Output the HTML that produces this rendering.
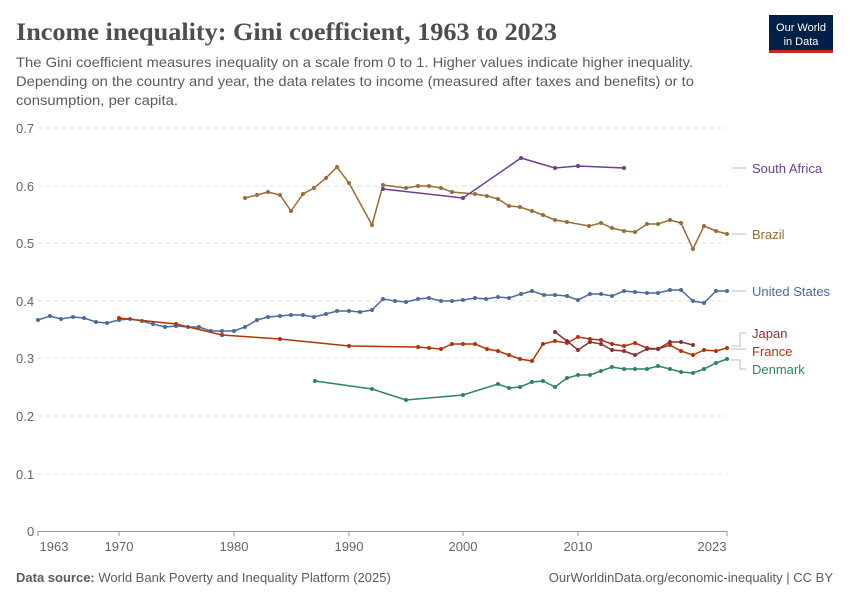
<!DOCTYPE html>
<html><head><meta charset="utf-8"><style>
body{margin:0;background:#fff;width:850px;height:600px;overflow:hidden;font-family:"Liberation Sans",sans-serif}
</style></head><body>
<svg width="850" height="600" xmlns="http://www.w3.org/2000/svg" font-family="Liberation Sans, sans-serif">
<defs>
<marker id="mb" markerWidth="6" markerHeight="6" refX="3" refY="3" markerUnits="userSpaceOnUse"><circle cx="3" cy="3" r="2" fill="#4c6a9c"/></marker>
<marker id="mr" markerWidth="6" markerHeight="6" refX="3" refY="3" markerUnits="userSpaceOnUse"><circle cx="3" cy="3" r="2" fill="#9a6c35"/></marker>
<marker id="ms" markerWidth="6" markerHeight="6" refX="3" refY="3" markerUnits="userSpaceOnUse"><circle cx="3" cy="3" r="2" fill="#6d3e91"/></marker>
<marker id="mf" markerWidth="6" markerHeight="6" refX="3" refY="3" markerUnits="userSpaceOnUse"><circle cx="3" cy="3" r="2" fill="#b13507"/></marker>
<marker id="mj" markerWidth="6" markerHeight="6" refX="3" refY="3" markerUnits="userSpaceOnUse"><circle cx="3" cy="3" r="2" fill="#883039"/></marker>
<marker id="md" markerWidth="6" markerHeight="6" refX="3" refY="3" markerUnits="userSpaceOnUse"><circle cx="3" cy="3" r="2" fill="#2c8465"/></marker>
</defs>
<text x="16" y="40" font-family="Liberation Serif, serif" font-size="25" font-weight="bold" fill="#4e4e4e" textLength="541" lengthAdjust="spacingAndGlyphs">Income inequality: Gini coefficient, 1963 to 2023</text>
<text font-size="14" fill="#5b5b5b"><tspan x="16" y="67" textLength="677" lengthAdjust="spacingAndGlyphs">The Gini coefficient measures inequality on a scale from 0 to 1. Higher values indicate higher inequality.</tspan></text>
<text font-size="14" fill="#5b5b5b"><tspan x="16" y="86" textLength="678" lengthAdjust="spacingAndGlyphs">Depending on the country and year, the data relates to income (measured after taxes and benefits) or to</tspan></text>
<text font-size="14" fill="#5b5b5b"><tspan x="16" y="105" textLength="162" lengthAdjust="spacingAndGlyphs">consumption, per capita.</tspan></text>
<rect x="769" y="15" width="64" height="37" fill="#002147"/><rect x="769" y="50" width="64" height="3" fill="#ce261e"/>
<text x="801" y="31" font-size="11" fill="#fff" text-anchor="middle">Our World</text><text x="801" y="45" font-size="11" fill="#fff" text-anchor="middle">in Data</text>
<g stroke="#ddd" stroke-dasharray="4,4" stroke-width="1">
<line x1="38" x2="727" y1="128" y2="128"/><line x1="38" x2="727" y1="186" y2="186"/><line x1="38" x2="727" y1="243" y2="243"/><line x1="38" x2="727" y1="301" y2="301"/><line x1="38" x2="727" y1="358" y2="358"/><line x1="38" x2="727" y1="416" y2="416"/><line x1="38" x2="727" y1="474" y2="474"/></g>
<line x1="38" x2="727" y1="531.5" y2="531.5" stroke="#999"/>
<g font-size="13" fill="#666"><text x="16" y="133">0.7</text><text x="16" y="191">0.6</text><text x="16" y="248">0.5</text><text x="16" y="306">0.4</text><text x="16" y="363">0.3</text><text x="16" y="421">0.2</text><text x="16" y="479">0.1</text><text x="27" y="536">0</text>
<g text-anchor="middle"><text x="54" y="551">1963</text><text x="119" y="551">1970</text><text x="234" y="551">1980</text><text x="349" y="551">1990</text><text x="463" y="551">2000</text><text x="578" y="551">2010</text><text x="712" y="551">2023</text></g></g>
<g stroke="#999"><line x1="38" x2="38" y1="531" y2="536"/><line x1="119" x2="119" y1="531" y2="536"/><line x1="234" x2="234" y1="531" y2="536"/><line x1="349" x2="349" y1="531" y2="536"/><line x1="463" x2="463" y1="531" y2="536"/><line x1="578" x2="578" y1="531" y2="536"/><line x1="727" x2="727" y1="531" y2="536"/></g>
<g fill="none" stroke-width="1.5">
<polyline stroke="#4c6a9c" marker-start="url(#mb)" marker-mid="url(#mb)" marker-end="url(#mb)" points="38,320 50,316 61,319 73,317 84,318 96,322 107,323 119,320 130,319 142,321 153,324 165,327 176,326 188,327 199,327 211,331 222,331 234,331 245,327 257,320 268,317 280,316 291,315 303,315 314,317 326,314 337,311 349,311 360,312 372,310 383,299 395,301 406,302 418,299 429,298 441,301 452,301 463,300 475,298 486,299 498,297 509,298 521,294 532,291 544,295 555,295 567,296 578,300 590,294 601,294 612,296 624,291 635,292 647,293 658,293 670,290 681,290 693,301 704,303 716,291 727,291"/>
<polyline stroke="#9a6c35" marker-start="url(#mr)" marker-mid="url(#mr)" marker-end="url(#mr)" points="245,198 257,195 268,192 280,195 291,211 303,194 314,188 326,178 337,167 349,183 372,225 383,185 406,188 418,186 429,186 441,188 452,192 475,194 487,196 498,199 509,206 520,207 532,211 543,215 555,220 567,222 589,226 601,223 612,228 624,231 635,232 647,224 658,224 670,220 681,223 693,249 704,226 716,231 727,234"/>
<polyline stroke="#6d3e91" marker-start="url(#ms)" marker-mid="url(#ms)" marker-end="url(#ms)" points="383,189 463,198 521,158 555,168 578,166 624,168"/>
<polyline stroke="#b13507" marker-start="url(#mf)" marker-mid="url(#mf)" marker-end="url(#mf)" points="119,318 176,324 222,335 280,339 349,346 418,347 429,348 441,349 452,344 463,344 475,344 487,349 498,351 509,355 520,359 532,361 543,344 555,341 567,343 578,337 590,339 601,340 612,344 624,346 635,343 647,348 658,349 670,345 681,351 693,355 704,350 716,351 727,348"/>
<polyline stroke="#883039" marker-start="url(#mj)" marker-mid="url(#mj)" marker-end="url(#mj)" points="555,332 567,341 578,350 590,342 601,344 612,350 624,351 635,355 647,349 658,349 670,342 681,342 693,345"/>
<polyline stroke="#2c8465" marker-start="url(#md)" marker-mid="url(#md)" marker-end="url(#md)" points="315,381 372,389 406,400 463,395 498,384 509,388 520,387 532,382 543,381 555,387 567,378 578,375 590,375 601,371 612,367 624,369 635,369 647,369 658,366 670,369 681,372 693,373 704,369 716,363 727,359"/>
</g>
<g fill="none" stroke="#bbb"><line x1="732" x2="746" y1="168" y2="168"/><line x1="732" x2="746" y1="234" y2="234"/><line x1="732" x2="746" y1="291" y2="291"/><path d="M731,346 H740 V333 H746 M731,349 H746"/><path d="M731,360 H740 V369 H746"/></g>
<g font-size="13"><text x="752" y="173" fill="#6d3e91">South Africa</text><text x="752" y="239" fill="#9a6c35">Brazil</text><text x="752" y="296" fill="#4c6a9c">United States</text><text x="752" y="338" fill="#883039">Japan</text><text x="752" y="356" fill="#b13507">France</text><text x="752" y="374" fill="#2c8465">Denmark</text></g>
<text x="16" y="582" font-size="13" fill="#5b5b5b"><tspan font-weight="bold">Data source:</tspan> World Bank Poverty and Inequality Platform (2025)</text>
<text x="833" y="582" font-size="13" fill="#5b5b5b" text-anchor="end">OurWorldinData.org/economic-inequality | CC BY</text>
</svg></body></html>
